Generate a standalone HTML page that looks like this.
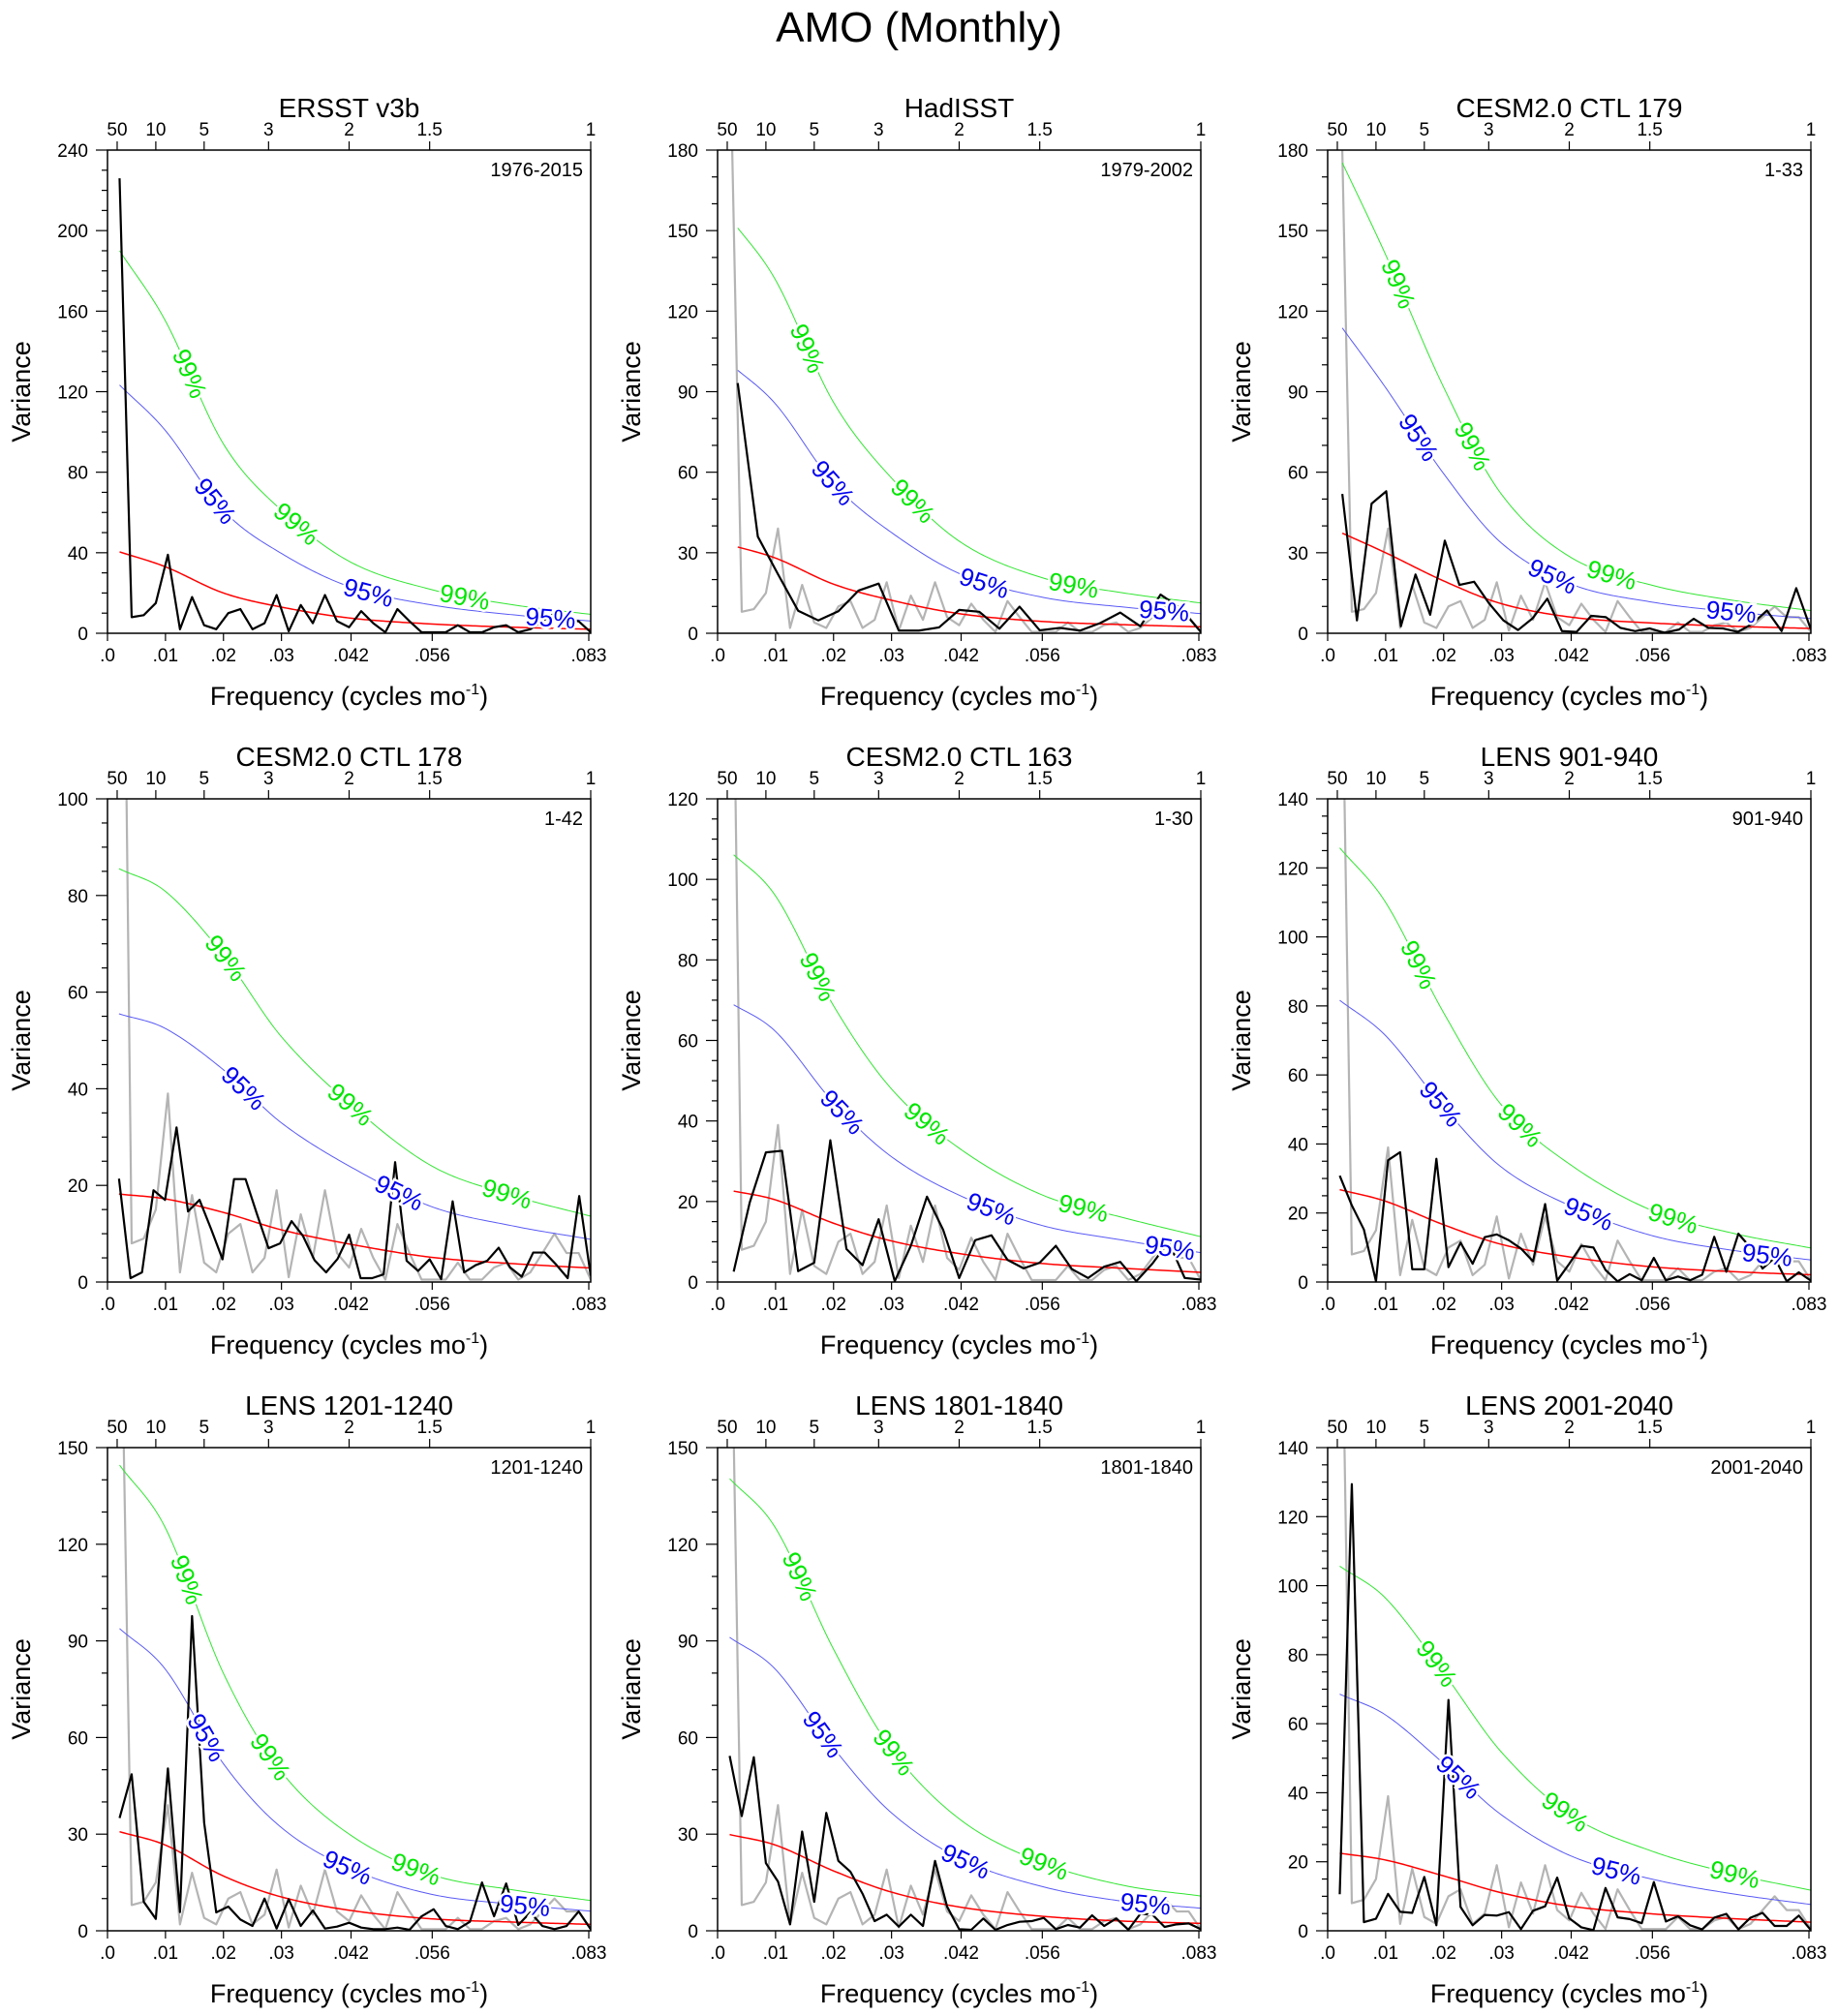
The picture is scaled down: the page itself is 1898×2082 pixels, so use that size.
<!DOCTYPE html>
<html><head><meta charset="utf-8"><title>AMO (Monthly)</title>
<style>
html,body{margin:0;padding:0;background:#fff;}
svg{display:block;font-family:"Liberation Sans",Arial,sans-serif;}
</style></head>
<body>
<svg id="chart" width="1898" height="2082" viewBox="0 0 1898 2082" xmlns="http://www.w3.org/2000/svg">
<rect x="0" y="0" width="1898" height="2082" fill="#fff"/>
<text x="949" y="43" text-anchor="middle" font-size="44">AMO (Monthly)</text>
</svg>
<script>
// ---- data ----
const panelTitles = ["ERSST v3b","HadISST","CESM2.0 CTL 179","CESM2.0 CTL 178","CESM2.0 CTL 163","LENS 901-940","LENS 1201-1240","LENS 1801-1840","LENS 2001-2040"];
const periodLabels = ["1976-2015","1979-2002","1-33","1-42","1-30","901-940","1201-1240","1801-1840","2001-2040"];
const yMaxes = [240,180,180,100,120,140,150,150,140];
const yMajorSteps = [40,30,30,20,20,20,30,30,20];
const yMinorSteps = [10,10,10,5,5,5,10,10,5];
const bottomTicks = [0,0.01,0.02,0.03,0.042,0.056,0.083];
const bottomTickLabels = [".0",".01",".02",".03",".042",".056",".083"];
const topPeriods = [50,10,5,3,2,1.5,1];
const topTickLabels = ["50","10","5","3","2","1.5","1"];
const redFreqs = [0.002,0.01,0.02,0.03,0.042,0.056,0.07,0.0833];
const chi95 = 3.05;
const chi99 = 4.7;

const ersst = [226,8,9,15,39,2,18,4,2,10,12,2,5,19,1,14,5,19,6,3,11,5,0.5,12,6,0.5,0.5,0.5,4,0.5,0.5,3,4,0.5,2,6,10,6,6,0.5];
const hadisst = [93.2,36,22,8.4,4.8,8.2,15.9,18.5,1,1,2.2,8.7,8,1.7,9.9,1.1,2,1,3.8,7.7,2.6,14.4,9.3,0.5];
const ctl179 = [51.9,4.8,48.3,52.9,2.6,21.9,6.9,34.5,18,19.2,11.3,4.8,1.2,5.6,12.9,0.8,0.5,6.5,6,2,0.8,1.8,0.2,1.4,5.4,2,1.8,0.5,3.5,8.5,0.8,16.8,1.4];
const ctl178 = [21.4,0.8,2,19,17,32,14.6,17,11,4.7,21.3,21.3,14,7,8,12.6,9.5,4.5,2,4.8,9.8,0.8,0.8,1.6,24.8,4.4,2.3,4.7,0.6,16.7,2,3.5,4.4,7.1,3,1.1,6.1,6.1,3.6,0.8,17.8,1.3];
const ctl163 = [2.6,19.8,32.2,32.6,2.7,4.8,35.2,8.2,4.2,15.6,0.2,9,21.2,13,1,10.4,11.6,5.5,3.4,4.8,9,3.2,1,3.8,5,0.2,4.6,10,1,0.6];
const lens901 = [30.8,22.2,15.2,0.2,35.3,37.6,3.7,3.7,35.7,4.3,11.4,5.3,13,13.8,12.1,9.7,6,22.6,0.4,5.3,10.5,10,3.5,0.2,2.3,0.5,7,0.5,1.6,0.5,2.1,13.1,3,14,10,3.9,7,0.2,2.8,0.4];
const lens1201 = [35,48.6,9,3.7,50.4,5.8,97.7,33.6,5.7,7.5,3.5,1.5,10,0.7,9.8,1.5,6.3,0.7,1.3,2.5,1,0.5,0.5,1,0.3,4.5,6.7,1.5,0.5,2.8,15,4.5,14.7,1.8,5.7,1.5,0.5,1.5,6,0.5];
const lens1801 = [54.3,35.6,53.9,21,15.3,2,30.8,9,36.6,21.7,18.3,11.5,3,5,1.3,5,1.5,21.7,7.5,0.5,0.3,3.8,0.3,1.8,2.8,3,4,0.5,1.8,1,4.8,1.5,3.8,0.3,5.3,5,1.2,2,2.3,0.5];
const lens2001 = [10.6,129.4,2.5,3.5,10.7,5.5,5.2,15.6,1.6,66.9,6.9,1.6,4.6,4.4,5.4,0.5,5.8,7.1,15.4,3.6,1,0.2,12.4,3.9,3.4,2.2,14.1,2.7,4.2,1.6,0.4,3.8,4.9,0.4,3.8,5.2,1.4,1.4,4.4,0.2];

const redErsst = [40.5,33,20,13,7.5,4.6,3,2];
const redHadisst = [33,28,18.3,12.3,7.2,4.4,3.2,2.4];
const red179 = [37.8,30,19.5,11,6,3.8,2.6,1.8];
const red178 = [18.2,17.2,14.4,10.8,7.8,5.1,3.8,2.9];
const red163 = [22.8,20.4,14.6,10.2,7,4.6,3.4,2.4];
const red901 = [26.8,23.4,16.6,10.9,7.2,4.4,3,2.1];
const red1201 = [30.8,26.6,17,10.5,6.3,3.7,2.7,2];
const red1801 = [29.9,26.6,18.6,12,7.3,4.5,3,2.3];
const red2001 = [22.5,20.5,15.9,11,7.1,4.9,3.5,2.5];

const label99Freqs = [[0.0142,0.0326,0.0616],[0.0155,0.0337,0.0614],[0.0122,0.025,0.049],[0.0204,0.0419,0.0689],[0.0173,0.0361,0.0631],[0.0157,0.0332,0.0596],[0.0137,0.0281,0.0532],[0.0142,0.0304,0.0563],[0.0188,0.041,0.0702]];
const label95Freqs = [[0.0186,0.045,0.0764],[0.0199,0.046,0.077],[0.0157,0.0388,0.0696],[0.0235,0.0503],[0.0215,0.0472,0.078],[0.0195,0.045,0.0758],[0.0171,0.0414,0.072],[0.0182,0.0428,0.0738],[0.0226,0.0498]];

const seriesList = [ersst,hadisst,ctl179,ctl178,ctl163,lens901,lens1201,lens1801,lens2001];
const redList = [redErsst,redHadisst,red179,red178,red163,red901,red1201,red1801,red2001];

// ---- layout ----
const NS = "http://www.w3.org/2000/svg";
const svg = document.getElementById("chart");
const colX = [111,741,1371];
const rowY = [155,825,1495];
const PW = 499, PH = 499, FMAX = 1/12;

function el(tag, attrs, parent){
  const e = document.createElementNS(NS, tag);
  for (const k in attrs) e.setAttribute(k, attrs[k]);
  (parent||svg).appendChild(e);
  return e;
}
function interpRed(red, f){
  const xs = redFreqs;
  if (f <= xs[0]) return red[0] + (red[1]-red[0])*(f-xs[0])/(xs[1]-xs[0]);
  let i = 0;
  while (i < xs.length-2 && f > xs[i+1]) i++;
  const t = (f - xs[i])/(xs[i+1]-xs[i]);
  const p0 = red[Math.max(i-1,0)], p1 = red[i], p2 = red[i+1], p3 = red[Math.min(i+2,red.length-1)];
  const h = xs[i+1]-xs[i];
  const m1 = i>0 ? (p2-p0)/(xs[i+1]-xs[i-1])*h : (p2-p1);
  const m2 = i+2<xs.length ? (p3-p1)/(xs[i+2]-xs[i])*h : (p2-p1);
  const t2=t*t, t3=t2*t;
  return (2*t3-3*t2+1)*p1 + (t3-2*t2+t)*m1 + (-2*t3+3*t2)*p2 + (t3-t2)*m2;
}

for (let p = 0; p < 9; p++){
  const x0 = colX[p%3], y0 = rowY[Math.floor(p/3)];
  const ymax = yMaxes[p];
  const xs = f => x0 + f/FMAX*PW;
  const ys = v => y0 + PH - v/ymax*PH;
  const g = el("g", {});
  
  

  const clip = el("clipPath", {id:"clip"+p}, g);
  el("rect", {x:x0, y:y0, width:PW, height:PH}, clip);

  const t = el("text", {x:x0+PW/2, y:y0-34, "text-anchor":"middle", "font-size":"28"}, g);
  t.textContent = panelTitles[p];
  
  

  const pl = el("text", {x:x0+PW-8, y:y0+27, "text-anchor":"end", "font-size":"20"}, g);
  pl.textContent = periodLabels[p];
  
  

  for (let v = 0; v <= ymax + 1e-9; v += yMinorSteps[p]){
    const major = Math.abs(v/yMajorSteps[p] - Math.round(v/yMajorSteps[p])) < 1e-6;
    el("line", {x1:x0-(major?12:6), x2:x0, y1:ys(v), y2:ys(v), stroke:"#000", "stroke-width":"1.2"}, g);
    if (major){
      const yl = el("text", {x:x0-20, y:ys(v)+7, "text-anchor":"end", "font-size":"19"}, g);
      yl.textContent = String(v);
      
      
    }
  }
  const yt = el("text", {x:0, y:0, "text-anchor":"middle", "font-size":"27", transform:`translate(${x0-80},${y0+PH/2}) rotate(-90)`}, g);
  yt.textContent = "Variance";
  
  

  bottomTicks.forEach((f,i) => {
    el("line", {x1:xs(f), x2:xs(f), y1:y0+PH, y2:y0+PH+8, stroke:"#000", "stroke-width":"1.2"}, g);
    const bl = el("text", {x:xs(f), y:y0+PH+29, "text-anchor":"middle", "font-size":"19"}, g);
    bl.textContent = bottomTickLabels[i];
    
    
  });
  const xt = el("text", {x:x0+PW/2, y:y0+PH+74, "text-anchor":"middle", "font-size":"27"}, g);
  
  
  xt.appendChild(document.createTextNode("Frequency (cycles mo"));
  const sup = el("tspan", {dy:"-11", "font-size":"16"}, xt);
  sup.textContent = "-1";
  const close = el("tspan", {dy:"11"}, xt);
  close.textContent = ")";

  topPeriods.forEach((P,i) => {
    const f = 1/(12*P);
    el("line", {x1:xs(f), x2:xs(f), y1:y0, y2:y0-9, stroke:"#000", "stroke-width":"1.2"}, g);
    const tl = el("text", {x:xs(f), y:y0-15, "text-anchor":"middle", "font-size":"19"}, g);
    tl.textContent = topTickLabels[i];
    
    
  });

  const data = seriesList[p], red = redList[p];
  const N = data.length;
  const f0 = 1/(12*N);
  const curve = (fac) => {
    let d = "";
    for (let k = 0; k <= 200; k++){
      const f = f0 + (FMAX-f0)*k/200;
      d += (k?"L":"M") + xs(f).toFixed(2) + "," + ys(interpRed(red,f)*fac).toFixed(2);
    }
    return d;
  };
  const cg = el("g", {"clip-path":`url(#clip${p})`}, g);
  if (p > 0){
    const gd = ersst.map((v,k) => (k?"L":"M") + xs((k+1)/(12*ersst.length)).toFixed(2) + "," + ys(v).toFixed(2)).join("");
    const gl = el("path", {d:gd, fill:"none", stroke:"#b4b4b4", "stroke-width":"2.2", "stroke-linejoin":"round"}, cg);
    
    
  }
  const c99 = el("path", {d:curve(chi99), fill:"none", stroke:"#32e632", "stroke-width":"1"}, cg);
  
  
  const c95 = el("path", {d:curve(chi95), fill:"none", stroke:"#5a5af5", "stroke-width":"1"}, cg);
  
  
  const cr = el("path", {d:curve(1), fill:"none", stroke:"#f00", "stroke-width":"1.5"}, cg);
  
  
  const bd = data.map((v,k) => (k?"L":"M") + xs((k+1)/(12*N)).toFixed(2) + "," + ys(v).toFixed(2)).join("");
  const bl = el("path", {d:bd, fill:"none", stroke:"#000", "stroke-width":"2.2", "stroke-linejoin":"round"}, cg);
  
  

  const addLabel = (f, fac, txt, col) => {
    const px = xs(f), py = ys(interpRed(red,f)*fac);
    const df = 0.0008;
    const ax = xs(f+df) - xs(f-df), ay = ys(interpRed(red,f+df)*fac) - ys(interpRed(red,f-df)*fac);
    const ang = Math.atan2(ay, ax)*180/Math.PI;
    const lt = el("text", {x:0, y:9, "text-anchor":"middle", "font-size":"26", fill:col, stroke:"#fff", "stroke-width":"5", "paint-order":"stroke", transform:`translate(${px.toFixed(1)},${py.toFixed(1)}) rotate(${ang.toFixed(1)})`}, g);
    lt.textContent = txt;
    
    
  };
  label99Freqs[p].forEach(f => addLabel(f, chi99, "99%", "#00e600"));
  label95Freqs[p].forEach(f => addLabel(f, chi95, "95%", "#0000f0"));

  const fr = el("rect", {x:x0, y:y0, width:PW, height:PH, fill:"none", stroke:"#000", "stroke-width":"1.5"}, g);
  
  
}
</script>
</body></html>
